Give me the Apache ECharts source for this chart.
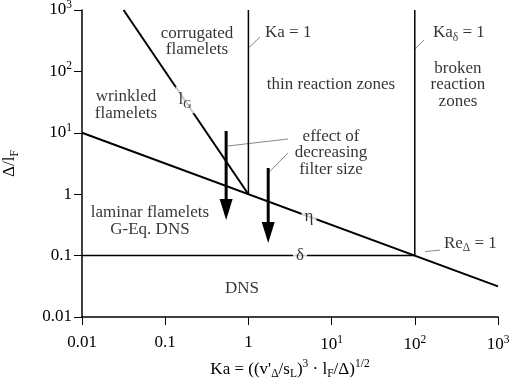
<!DOCTYPE html>
<html><head><meta charset="utf-8">
<script src="https://cdn.jsdelivr.net/npm/echarts@6/dist/echarts.min.js"></script>
<style>html,body{margin:0;padding:0;background:#fff}#c{width:511px;height:378px}</style>
</head><body><div id="c"></div>
<script>
// ---- data ----
const xTickLabels = ['0.01','0.1','1','10{sup|1}','10{sup|2}','10{sup|3}'];
const yTickLabels = ['0.01','0.1','1','10{sup|1}','10{sup|2}','10{sup|3}'];
// boundary lines (Ka, Δ/lF)
const etaLine   = [[0.01, 10], [1000, 0.0316]];
const lGLine    = [[0.0316, 1000], [1, 1]];
const ka1Line   = [[1, 1], [1, 1000]];
const kaDLine   = [[100, 0.1], [100, 1000]];
const deltaLine = [[0.01, 0.1], [100, 0.1]];
// arrows: [Ka, top, tip]
const arrows = [[0.54, 10.7, 0.38], [1.73, 2.67, 0.16]];
// leader lines
const leaders = [
  [[1, 240], [1.377, 363]],
  [[100, 232], [129, 324]],
  [[0.569, 6.1], [2.99, 7.93]],
  [[1.73, 2.21], [2.99, 4.69]],
  [[132.7, 0.116], [201, 0.123]]
];
// region / line labels: [Ka, Δ/lF, text, align, onLine]
const labels = [
  [0.241, 307, 'corrugated\nflamelets', 'center', false],
  [0.0338, 28.4, 'wrinkled\nflamelets', 'center', false],
  [0.173, 34.2, 'l{sub|G}', 'center', true],
  [1.585, 422, 'Ka = 1', 'left', false],
  [9.84, 60, 'thin reaction zones', 'center', false],
  [165.6, 422, 'Ka{sub|δ} = 1', 'left', false],
  [330, 60, 'broken\nreaction\nzones', 'center', false],
  [9.84, 4.69, 'effect of\ndecreasing\nfilter size', 'center', false],
  [0.0656, 0.366, 'laminar flamelets\nG-Eq. DNS', 'center', false],
  [0.837, 0.0296, 'DNS', 'center', false],
  [4.17, 0.1, 'δ', 'center', true],
  [5.35, 0.432, 'η', 'center', true],
  [224, 0.160, 'Re{sub|Δ} = 1', 'left', false]
];
const xName = "Ka = ((v'{sub|Δ}/s{sub|L}){sup|3} · l{sub|F}/Δ){sup|1/2}";
const yName = 'Δ/l{sub|F}';

// ---- chart ----
const FONT = '"Liberation Serif", "DejaVu Serif", serif';
const FS = 17;
const rich = {
  sup: {fontFamily: FONT, fontSize: 11.5, color: '#000', padding: [0, 0, 10, 0]},
  sub: {fontFamily: FONT, fontSize: 11.5, color: '#000', padding: [10, 0, 0, 0]}
};
function tickFmt(list) {
  return function (v) { const e = Math.round(Math.log10(v)); return list[e + 2] || ''; };
}
function lineSeries(data, w) {
  return {type: 'line', data: data, symbol: 'none', silent: true, animation: false,
    lineStyle: {color: '#000', width: w}, z: 2};
}
const series = [
  lineSeries(etaLine, 2), lineSeries(lGLine, 2), lineSeries(ka1Line, 1.5),
  lineSeries(kaDLine, 1.5), lineSeries(deltaLine, 1.5)
];
leaders.forEach(function (l) {
  series.push({type: 'line', data: l, symbol: 'none', silent: true, animation: false,
    lineStyle: {color: '#555', width: 0.7}, z: 1});
});
series.push({
  type: 'custom', animation: false, silent: true, z: 3,
  encode: {x: 0, y: [1, 2]},
  data: arrows,
  renderItem: function (params, api) {
    const top = api.coord([api.value(0), api.value(1)]);
    const tip = api.coord([api.value(0), api.value(2)]);
    const hl = 21, hw = 6.5;
    return {type: 'group', children: [
      {type: 'line', shape: {x1: top[0], y1: top[1], x2: tip[0], y2: tip[1] - hl + 2},
        style: {stroke: '#000', lineWidth: 3}},
      {type: 'polygon', shape: {points: [[tip[0] - hw, tip[1] - hl], [tip[0] + hw, tip[1] - hl], [tip[0], tip[1]]]},
        style: {fill: '#000'}}
    ]};
  }
});
series.push({
  type: 'scatter', symbolSize: 0, silent: true, animation: false, z: 5,
  data: labels.map(function (l, i) {
    return {value: [l[0], l[1]], label: {
      show: true, position: 'inside', formatter: l[2], align: l[3],
      fontFamily: FONT, fontSize: FS, color: '#000', lineHeight: 16.5,
      backgroundColor: l[4] ? '#fff' : 'transparent',
      padding: l[4] ? (i === 2 ? [5, 3] : [0, 3]) : 0,
      rich: rich
    }};
  })
});

const chart = echarts.init(document.getElementById('c'), null, {renderer: 'canvas'});
chart.setOption({
  backgroundColor: '#fff',
  animation: false,
  grid: {left: 82, right: 13, top: 10, bottom: 61, containLabel: false, outerBoundsMode: 'none'},
  xAxis: {
    type: 'log', logBase: 10, min: 0.01, max: 1000, interval: 1,
    axisLine: {lineStyle: {color: '#000', width: 1.5}},
    axisTick: {length: 8, lineStyle: {color: '#000', width: 1}},
    splitLine: {show: false}, minorTick: {show: false},
    axisLabel: {formatter: tickFmt(xTickLabels), fontFamily: FONT, fontSize: FS, color: '#000', margin: 17, rich: rich},
    name: xName, nameLocation: 'middle', nameGap: 37,
    nameTextStyle: {fontFamily: FONT, fontSize: FS, color: '#000', rich: rich}
  },
  yAxis: {
    type: 'log', logBase: 10, min: 0.01, max: 1000, interval: 1,
    axisLine: {lineStyle: {color: '#000', width: 1.5}},
    axisTick: {length: 8, lineStyle: {color: '#000', width: 1}},
    splitLine: {show: false}, minorTick: {show: false},
    axisLabel: {formatter: tickFmt(yTickLabels), fontFamily: FONT, fontSize: FS, color: '#000', margin: 10, rich: rich},
    name: yName, nameLocation: 'middle', nameGap: 61, nameRotate: 90,
    nameTextStyle: {fontFamily: FONT, fontSize: FS, color: '#000', rich: rich}
  },
  series: series
});
</script>
</body></html>
